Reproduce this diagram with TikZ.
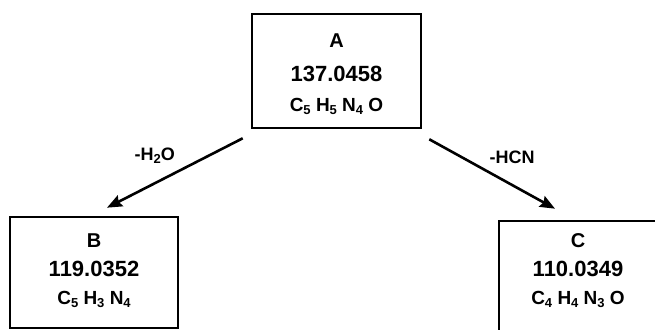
\documentclass[tikz,border=0pt]{standalone}
\usepackage{fontspec}
\setmainfont{Liberation Sans}
\usepackage{tikz}
\usetikzlibrary{calc,arrows.meta}

\newcommand\fsb[1]{\raisebox{-0.3ex}{\fontsize{13}{13}\selectfont #1}}

\begin{document}
\begin{tikzpicture}[x=1pt, y=1pt, >={Stealth[length=15pt,width=12pt,inset=2pt]},
	fragbox/.style={draw, line width=2.6pt, inner sep=0pt},
	fragtext/.style={align=center, inner sep=0pt, font=\bfseries\fontsize{22}{28}\selectfont},
	losstext/.style={inner sep=0pt, font=\bfseries\fontsize{18}{20}\selectfont},
	loss/.style={->, line width=2.6pt}]
	% 1. canvas
	\useasboundingbox (0,0) rectangle (655,329);
	\clip (0,0) rectangle (655,329);
	
	\def\fsub{\fontsize{19}{28}\selectfont}
	
	% 2. boxes
	\node[fragbox, minimum width=169, minimum height=114] (boxA) at (336.5,258) {};
	\node[fragbox, minimum width=168, minimum height=111] (boxB) at (94,56.5) {};
	\node[fragbox, minimum width=158, minimum height=114] (boxC) at (578,51) {};
	
	% 3. fragment texts
	\node[fragtext] (A) at (336.5,255) {{\fontsize{20}{28}\selectfont A}\\[6pt] 137.0458\\[2pt]
		{\fsub C\fsb{5} H\fsb{5} N\fsb{4} O}};
	\node[fragtext] (B) at (94,58.5) {{\fontsize{20}{28}\selectfont B}\\[1pt] 119.0352\\
		{\fsub C\fsb{5} H\fsb{3} N\fsb{4}}};
	\node[fragtext] (C) at (578,58.5) {{\fontsize{20}{28}\selectfont C}\\[1pt] 110.0349\\
		{\fsub C\fsb{4} H\fsb{4} N\fsb{3} O}};
	
	% 4. arrow ends
	\coordinate (startL) at ($(boxA.south west)+(-8,-9)$);
	\coordinate (endL) at ($(boxB.north)+(13,8)$);
	\coordinate (startR) at ($(boxA.south east)+(7,-10)$);
	\coordinate (endR) at ($(boxC.north)+(-23,11)$);
	
	% 5. losses
	\draw[loss] (startL) -- (endL);
	\draw[loss] (startR) -- (endR);
	\node[losstext] (lossH2O) at ($(startL)!0.5!(endL)+(-20,17)$) {-H\fsb{2}O};
	\node[losstext] (lossHCN) at ($(startR)!0.5!(endR)+(20,17)$) {-HCN};
	
\end{tikzpicture}
\end{document}
